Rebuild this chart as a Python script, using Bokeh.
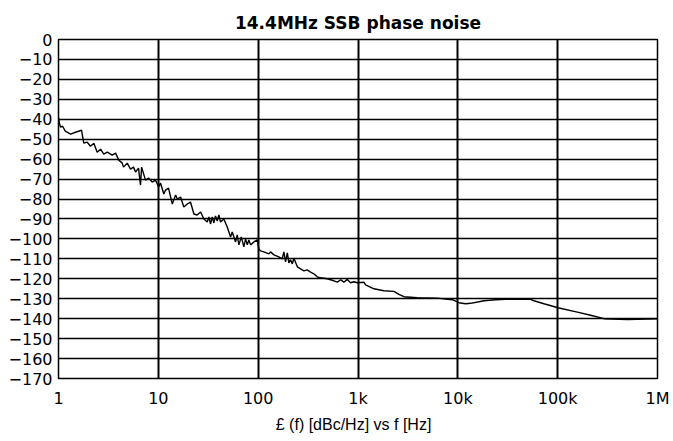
from bokeh.plotting import figure
from bokeh.models import FixedTicker, CustomJSTickFormatter, Range1d
from bokeh.embed import file_html
from bokeh.resources import INLINE

title_text = "14.4MHz SSB phase noise"
x_label = "£ (f)  [dBc/Hz]  vs f [Hz]"

x_ticks = [1, 10, 100, 1000, 10000, 100000, 1000000]
x_tick_labels = ["1", "10", "100", "1k", "10k", "100k", "1M"]
y_ticks = list(range(-170, 1, 10))

freq = [1.00, 1.02, 1.05, 1.10, 1.17, 1.32, 1.48, 1.70, 1.79, 1.94, 2.09, 2.26, 2.44,
        2.64, 2.84, 3.08, 3.45, 3.73, 4.02, 4.35, 4.48, 4.88, 5.27, 5.64, 5.91, 6.33,
        6.63, 6.80, 6.94, 7.44, 7.98, 8.68, 9.37, 10.05,
        10.5, 11.35, 11.8, 12.65, 13.8, 14.9, 15.5, 16.7, 18.0, 19.5, 21.0, 22.7, 24.5,
        26.5, 28.6, 30.9, 32.1, 33.3, 34.7, 36.0, 37.4, 38.9, 40.4, 42.0, 45.3, 49.0,
        52.9, 55.0, 59.4, 61.7, 64.1, 67.7, 71.9, 74.8, 77.8, 80.7, 83.9, 90.6, 98.0,
        101.6, 105.7, 114, 128, 133, 144, 161, 174, 181, 188, 196, 203, 211, 220, 228,
        247, 266, 287, 310, 335, 361, 391, 422, 492, 573, 621, 670, 722, 781, 843, 910,
        984, 1146, 1191, 1443, 1817, 2290, 2570, 2884, 3926, 6237, 8810, 10260, 11970,
        13430, 16270, 18270, 23930, 30130, 39450, 53580, 57900, 72900, 100700, 157400,
        214000, 291000, 499000, 998000]
dbc = [-39, -42, -44, -43.5, -46, -47.5, -46.5, -45.5, -52, -51.5, -53.5, -52, -56.5,
       -55, -57.5, -56.5, -58, -57, -60.5, -62, -64, -62, -65, -64, -66.5, -64.5,
       -73, -64, -65.5, -70.5, -69.5, -71.5, -70.5, -74,
       -72, -77.5, -75.5, -74.5, -82.5, -78, -80, -79, -84, -82.5, -81.5, -87.5, -88,
       -86.5, -90, -91.5, -89, -92.5, -89, -92, -88.5, -91, -88, -91.5, -90, -94,
       -99, -96.5, -101.5, -98, -103, -99, -104, -100, -103, -100.5, -103, -101.5, -100.5,
       -105, -106, -106.5, -107.5, -106.5, -108, -109, -110, -106.5, -111.5, -107, -112,
       -110.5, -112.5, -109.7, -114, -115, -116, -115.5, -116.7, -117.5, -119, -119.5,
       -120, -121, -121.7, -120.5, -121.7, -120.3, -122, -121.5, -122, -121.7, -123,
       -125, -126, -126.3, -127.8, -129, -129.5, -129.7, -130.5, -132, -132.5, -132.3,
       -131.5, -131, -130.5, -130.3, -130.3, -130.3, -131, -132.5, -134.5, -136.7,
       -138.3, -140, -140.4, -140]

FONT = "DejaVu Sans"

p = figure(width=673, height=441, x_axis_type="log", output_backend="svg",
           toolbar_location=None, x_range=Range1d(1, 1e6), y_range=Range1d(-170, 0),
           min_border_left=58, min_border_right=16, min_border_top=39, min_border_bottom=63)

p.title.text = title_text
p.title.align = "center"
p.title.text_font = FONT
p.title.text_font_style = "bold"
p.title.text_font_size = "17px"
p.title.text_color = "black"
p.title.standoff = 14

p.outline_line_color = "black"
p.outline_line_width = 1.5
p.outline_line_alpha = 1.0
p.background_fill_color = "white"
p.border_fill_color = "white"

p.xaxis.ticker = FixedTicker(ticks=x_ticks, minor_ticks=[])
p.xaxis.formatter = CustomJSTickFormatter(args=dict(labels=x_tick_labels),
                                          code="return labels[Math.round(Math.log10(tick))];")
p.yaxis.ticker = FixedTicker(ticks=y_ticks, minor_ticks=[])
p.yaxis.formatter = CustomJSTickFormatter(code="return tick < 0 ? '\u2212' + Math.abs(tick) : String(tick);")

for ax in (p.xaxis, p.yaxis):
    ax.axis_line_color = None
    ax.major_tick_line_color = None
    ax.minor_tick_line_color = None
    ax.major_tick_out = 0
    ax.major_tick_in = 0
    ax.minor_tick_out = 0
    ax.minor_tick_in = 0
    ax.major_label_text_font = FONT
    ax.major_label_text_font_size = "16px"
    ax.major_label_text_color = "black"

p.yaxis.major_label_standoff = 6
p.xaxis.major_label_standoff = 10
p.xaxis.axis_label = x_label
p.xaxis.axis_label_text_font = "Liberation Sans"
p.xaxis.axis_label_text_font_size = "16px"
p.xaxis.axis_label_text_font_style = "normal"
p.xaxis.axis_label_text_color = "black"
p.xaxis.axis_label_standoff = 5

p.xgrid.grid_line_color = "black"
p.xgrid.grid_line_width = 2
p.xgrid.grid_line_alpha = 1.0
p.ygrid.grid_line_color = "black"
p.ygrid.grid_line_width = 1.5
p.ygrid.grid_line_alpha = 1.0

p.line(freq, dbc, line_color="black", line_width=1.4)

open("out.html", "w").write(file_html(p, INLINE))
